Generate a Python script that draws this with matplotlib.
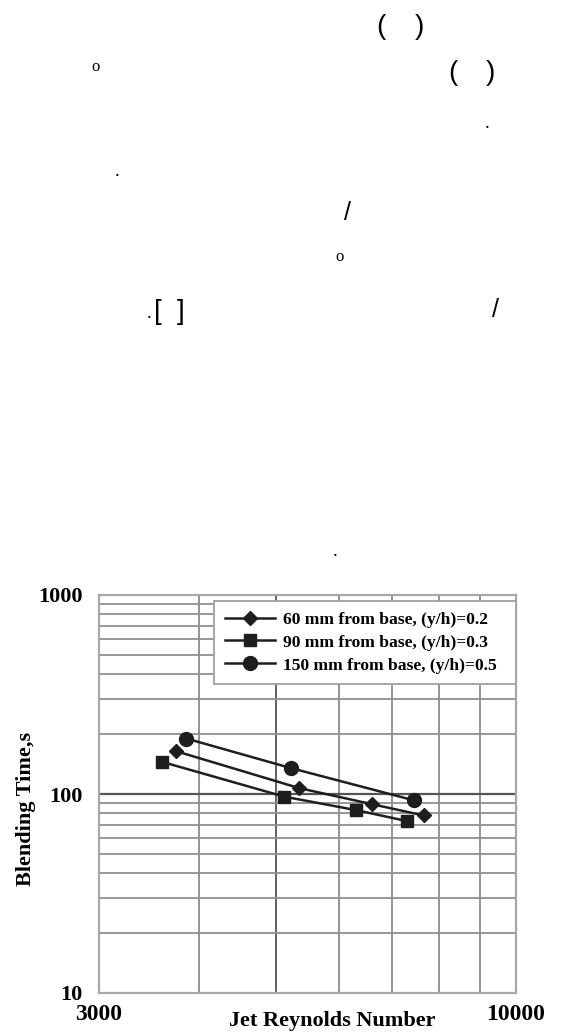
import matplotlib
matplotlib.use("Agg")
import matplotlib.pyplot as plt
from matplotlib.ticker import FixedLocator, NullFormatter

# blending time vs jet Reynolds number, three probe heights
re_60 = [3750, 5350, 6590, 7660]
t_60 = [164, 107, 89, 78]
re_90 = [3600, 5120, 6300, 7310]
t_90 = [145, 97, 83, 73]
re_150 = [3860, 5220, 7440]
t_150 = [190, 135, 93]

labels = ["60 mm from base, (y/h)=0.2",
          "90 mm from base, (y/h)=0.3",
          "150 mm from base, (y/h)=0.5"]

x_ticks = [3000, 10000]
y_ticks = [10, 100, 1000]

# leftover punctuation from the page text above the figure
page_marks = [
    ("(", 381, 27, 20, "Liberation Sans"),
    (")", 419, 27, 20, "Liberation Sans"),
    ("o", 96, 67, 12, "Liberation Serif"),
    ("(", 453, 73, 20, "Liberation Sans"),
    (")", 490, 73, 20, "Liberation Sans"),
    (".", 487, 124, 14, "Liberation Serif"),
    (".", 117, 172, 14, "Liberation Serif"),
    ("/", 348, 213, 18, "Liberation Sans"),
    ("o", 340, 257, 12, "Liberation Serif"),
    (".", 149, 314, 14, "Liberation Serif"),
    ("[", 158, 312, 20, "Liberation Sans"),
    ("]", 181, 312, 20, "Liberation Sans"),
    ("/", 496, 310, 18, "Liberation Sans"),
    (".", 335, 551, 14, "Liberation Serif"),
]

W, H = 564, 1034
fig = plt.figure(figsize=(W / 100, H / 100), dpi=100)

for s, px, py, fs, fam in page_marks:
    fig.text(px / W, 1 - py / H, s, fontsize=fs, family=fam,
             ha="center", va="center", color="black")

ax = fig.add_axes([99 / W, 1 - 993 / H, 417 / W, 398 / H])
ax.set_xscale("log")
ax.set_yscale("log")
ax.set_xlim(3000, 10000)
ax.set_ylim(10, 1000)

# grid
for v in [4000, 5000, 6000, 7000, 8000, 9000]:
    ax.axvline(v, color="#555555" if v == 5000 else "#8a8a8a", lw=1.3, zorder=1)
for v in [20, 30, 40, 50, 60, 70, 80, 90, 200, 300, 400, 500, 600, 700, 800, 900]:
    ax.axhline(v, color="#909090", lw=1.3, zorder=1)
ax.axhline(100, color="#555555", lw=1.6, zorder=1)

for sp in ax.spines.values():
    sp.set_color("#a8a8a8")
    sp.set_linewidth(1.6)

line_kw = dict(color="#1e1e1e", lw=1.8, zorder=3)
ax.plot(re_60, t_60, marker="D", ms=7, label=labels[0], **line_kw)
ax.plot(re_90, t_90, marker="s", ms=8, label=labels[1], **line_kw)
ax.plot(re_150, t_150, marker="o", ms=10, label=labels[2], **line_kw)

ax.xaxis.set_major_locator(FixedLocator(x_ticks))
ax.xaxis.set_minor_locator(FixedLocator([]))
ax.xaxis.set_minor_formatter(NullFormatter())
ax.set_xticklabels([str(v) for v in x_ticks])
ax.yaxis.set_major_locator(FixedLocator(y_ticks))
ax.yaxis.set_minor_locator(FixedLocator([]))
ax.yaxis.set_minor_formatter(NullFormatter())
ax.set_yticklabels([str(v) for v in y_ticks])
ax.tick_params(axis="both", length=0)
ax.tick_params(axis="x", pad=8)
ax.tick_params(axis="y", pad=12)
for lab in ax.get_xticklabels():
    lab.set_fontfamily("Liberation Serif")
    lab.set_fontweight("bold")
    lab.set_fontsize(17)
for lab in ax.get_yticklabels():
    lab.set_fontfamily("Liberation Serif")
    lab.set_fontweight("bold")
    lab.set_fontsize(16)

fig.text(332 / W, 1 - 1021 / H, "Jet Reynolds Number", fontsize=16,
         family="Liberation Serif", weight="bold", ha="center", va="center")
fig.text(26 / W, 1 - 809 / H, "Blending Time,s", fontsize=16, rotation=90,
         family="Liberation Serif", weight="bold", ha="center", va="center")

leg = ax.legend(loc="upper left", bbox_to_anchor=(0.276, 0.781, 0.724, 0.204),
                mode="expand", borderaxespad=0, fancybox=False, framealpha=1,
                handlelength=2.9, handletextpad=0.45, labelspacing=0.38,
                borderpad=0.6,
                prop={"family": "Liberation Serif", "weight": "bold", "size": 12.6})
leg.get_frame().set_edgecolor("#a0a0a0")
leg.get_frame().set_linewidth(1.3)
leg.set_zorder(5)

fig.savefig("out.png", dpi=100, facecolor="white")
